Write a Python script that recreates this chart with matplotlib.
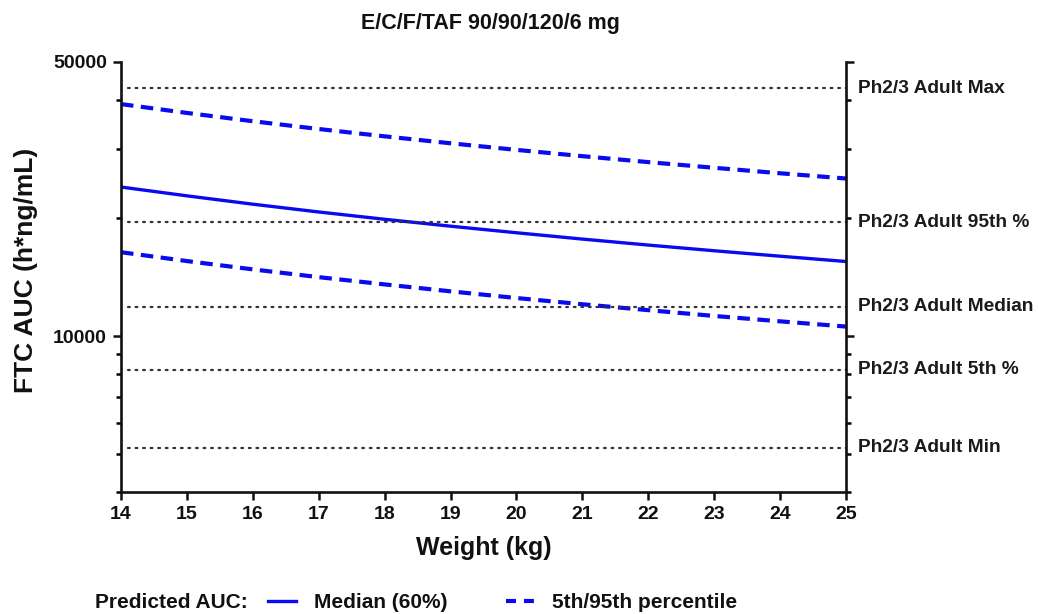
import matplotlib
matplotlib.use("Agg")
import matplotlib.pyplot as plt
from matplotlib.lines import Line2D
from matplotlib.ticker import FixedLocator, NullFormatter

plt.rcParams['font.family'] = ['Liberation Sans', 'DejaVu Sans']
plt.rcParams['font.weight'] = 'bold'

# ---- data ----
weight = [14, 15, 16, 17, 18, 19, 20, 21, 22, 23, 24, 25]
auc_median = [23990, 22780, 21690, 20720, 19850, 19060, 18340, 17670, 17060, 16500, 15980, 15490]
auc_p95 = [39050, 37070, 35310, 33730, 32310, 31020, 29840, 28760, 27770, 26860, 26010, 25220]
auc_p5 = [16360, 15530, 14790, 14130, 13540, 13000, 12500, 12050, 11640, 11250, 10900, 10570]

ref_labels = ["Ph2/3 Adult Max", "Ph2/3 Adult 95th %", "Ph2/3 Adult Median",
              "Ph2/3 Adult 5th %", "Ph2/3 Adult Min"]
ref_values = [42900, 19500, 11880, 8200, 5180]

x_ticks = [14, 15, 16, 17, 18, 19, 20, 21, 22, 23, 24, 25]
y_major = [10000, 50000]
y_minor = [4000, 5000, 6000, 7000, 8000, 9000, 20000, 30000, 40000]

title = "E/C/F/TAF 90/90/120/6 mg"
xlabel = "Weight (kg)"
ylabel = "FTC AUC (h*ng/mL)"
legend_title = "Predicted AUC:"
legend_labels = ["Median (60%)", "5th/95th percentile"]

# ---- figure ----
W, H = 1039, 614
fig = plt.figure(figsize=(W / 100, H / 100), dpi=100)
L, R, T, B = 121, 846, 62, 492
ax = fig.add_axes([L / W, 1 - B / H, (R - L) / W, (B - T) / H])

blue = '#0a0aee'
ax.plot(weight, auc_median, color=blue, lw=2.4, solid_capstyle='butt')
ax.plot(weight, auc_p95, color=blue, lw=3.0, dashes=(3.0, 1.8))
ax.plot(weight, auc_p5, color=blue, lw=3.0, dashes=(3.0, 1.8))

for v in ref_values:
    ax.plot([14.1, 25], [v, v], color='#333333', lw=1.6, linestyle=(0, (0.8, 2.6)),
            dash_capstyle='round')
for lab, v in zip(ref_labels, ref_values):
    ax.annotate(lab, xy=(1, v), xycoords=('axes fraction', 'data'),
                xytext=(9, 0), textcoords='offset points', ha='left', va='center',
                fontsize=13.8, fontweight='bold', color='#1a1a1a')

ax.set_yscale('log')
ax.set_xlim(14, 25)
ax.set_ylim(4000, 50000)
ax.yaxis.set_major_locator(FixedLocator(y_major))
ax.set_yticklabels([str(v) for v in y_major])
ax.yaxis.set_minor_locator(FixedLocator(y_minor))
ax.yaxis.set_minor_formatter(NullFormatter())
ax.set_xticks(x_ticks)
ax.set_xticklabels([str(v) for v in x_ticks])

for s in ['left', 'right', 'bottom']:
    ax.spines[s].set_linewidth(1.9)
    ax.spines[s].set_color('#111111')
ax.spines['top'].set_visible(False)

ax.tick_params(axis='both', which='major', direction='out', length=6, width=1.8,
               labelsize=14, colors='#111111', pad=4)
ax.tick_params(axis='y', which='minor', direction='out', length=3.5, width=1.8)
ax.tick_params(axis='y', which='both', right=True, labelright=False)
for lbl in ax.get_xticklabels() + ax.get_yticklabels():
    lbl.set_fontweight('bold')

ax.set_xlabel(xlabel, fontsize=18, fontweight='bold', color='#111111')
ax.xaxis.set_label_coords(0.5, -0.102)
ax.set_ylabel(ylabel, fontsize=19, fontweight='bold', color='#111111')
ax.yaxis.set_label_coords(-0.115, 0.515)
ax.set_title(title, fontsize=15.5, fontweight='bold', color='#111111', pad=24, x=0.51)

# legend
fig.text(95 / W, 1 - 603 / H, legend_title, fontsize=15, fontweight='bold',
         color='#111111', ha='left', va='center')
handles = [Line2D([], [], color=blue, lw=2.4),
           Line2D([], [], color=blue, lw=3.0, dashes=(2.4, 1.9))]
leg = fig.legend(handles, legend_labels, loc='center left',
                 bbox_to_anchor=(268 / W, 1 - 603 / H), ncol=2, frameon=False,
                 fontsize=15, handlelength=1.35, handletextpad=0.85, columnspacing=2.8,
                 borderpad=0, borderaxespad=0)
for t in leg.get_texts():
    t.set_fontweight('bold')
    t.set_color('#111111')

fig.savefig('out.png', dpi=100)
